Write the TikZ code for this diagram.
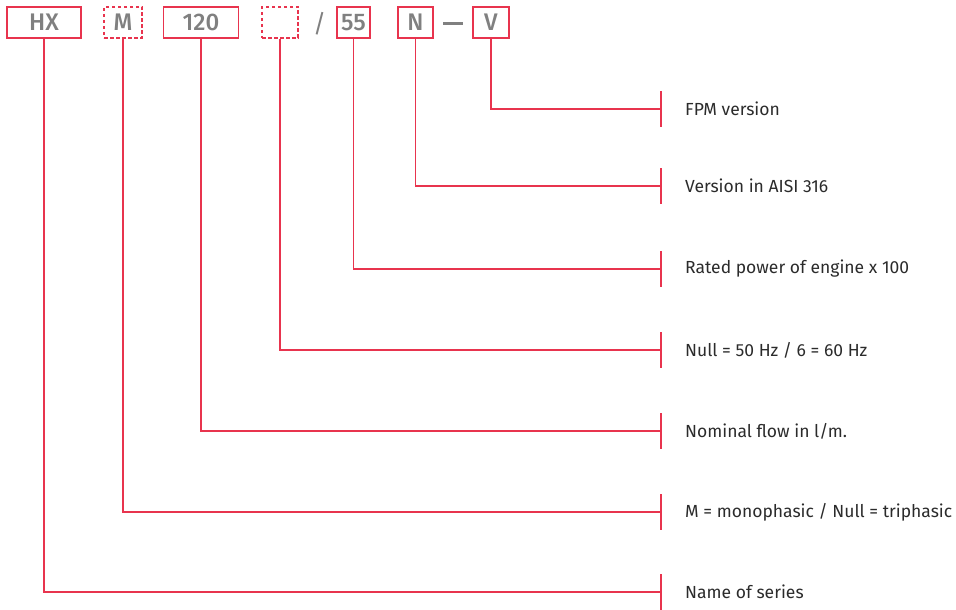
\documentclass[tikz,border=0pt]{standalone}
\usepackage{fontspec}
\setmainfont{Fira Sans}
\newfontfamily\boxfont{Fira Sans Medium}
\definecolor{hxred}{HTML}{E8344E}
\definecolor{hxgray}{HTML}{808080}
\definecolor{hxtext}{HTML}{2B2B2B}
\begin{document}
\begin{tikzpicture}[x=1pt,y=-1pt,
  codebox/.style={draw=hxred,line width=1.8pt,minimum height=31pt,inner sep=0pt,text=hxgray,font=\boxfont\fontsize{24}{24}\selectfont},
  dashbox/.style={codebox,dash pattern=on 3.5pt off 2.5pt},
  sep/.style={text=hxgray,inner sep=0pt,font=\fontsize{25}{25}\selectfont},
  link/.style={draw=hxred,line width=1.5pt},
  tick/.style={draw=hxred,line width=1.8pt},
  lbl/.style={anchor=west,text=hxtext,font=\fontsize{17.5}{17.5}\selectfont,inner sep=0pt}]
\useasboundingbox (0,0) rectangle (956,610);
\node[codebox,minimum width=74pt] (hx) at (44,22.5) {HX};
\node[dashbox,minimum width=38pt] (m) at (123,22.5) {M};
\node[codebox,minimum width=75pt] (f) at (201,22.5) {120};
\node[dashbox,minimum width=36pt] (hz) at (280,22.5) {};
\node[sep] (sl) at (319.5,23.5) {/};
\node[codebox,minimum width=33pt] (p) at (353.5,22.5) {55};
\node[codebox,minimum width=35pt] (n) at (415.5,22.5) {N};
\node[sep] (da) at (453,24) {\rule{20pt}{3pt}};
\node[codebox,minimum width=36pt] (v) at (491,22.5) {V};
\foreach \nm/\src/\yy/\txt in {
  a/v/109/{FPM version},
  b/n/186/{Version in AISI 316},
  c/p/269/{Rated power of engine x 100},
  d/hz/350/{Null = 50 Hz / 6 = 60 Hz},
  e/f/431/{Nominal flow in l/m.},
  g/m/512/{M = monophasic / Null = triphasic},
  h/hx/592/{Name of series}} {
  \coordinate (t\nm) at (661,\yy);
  \coordinate (tu\nm) at (661,\yy-18);
  \coordinate (td\nm) at (661,\yy+18);
  \draw[link] (\src.south) |- (t\nm);
  \draw[tick] (tu\nm) -- (td\nm);
  \node[lbl] (l\nm) at (685,\yy) {\txt};
}
\end{tikzpicture}
\end{document}
